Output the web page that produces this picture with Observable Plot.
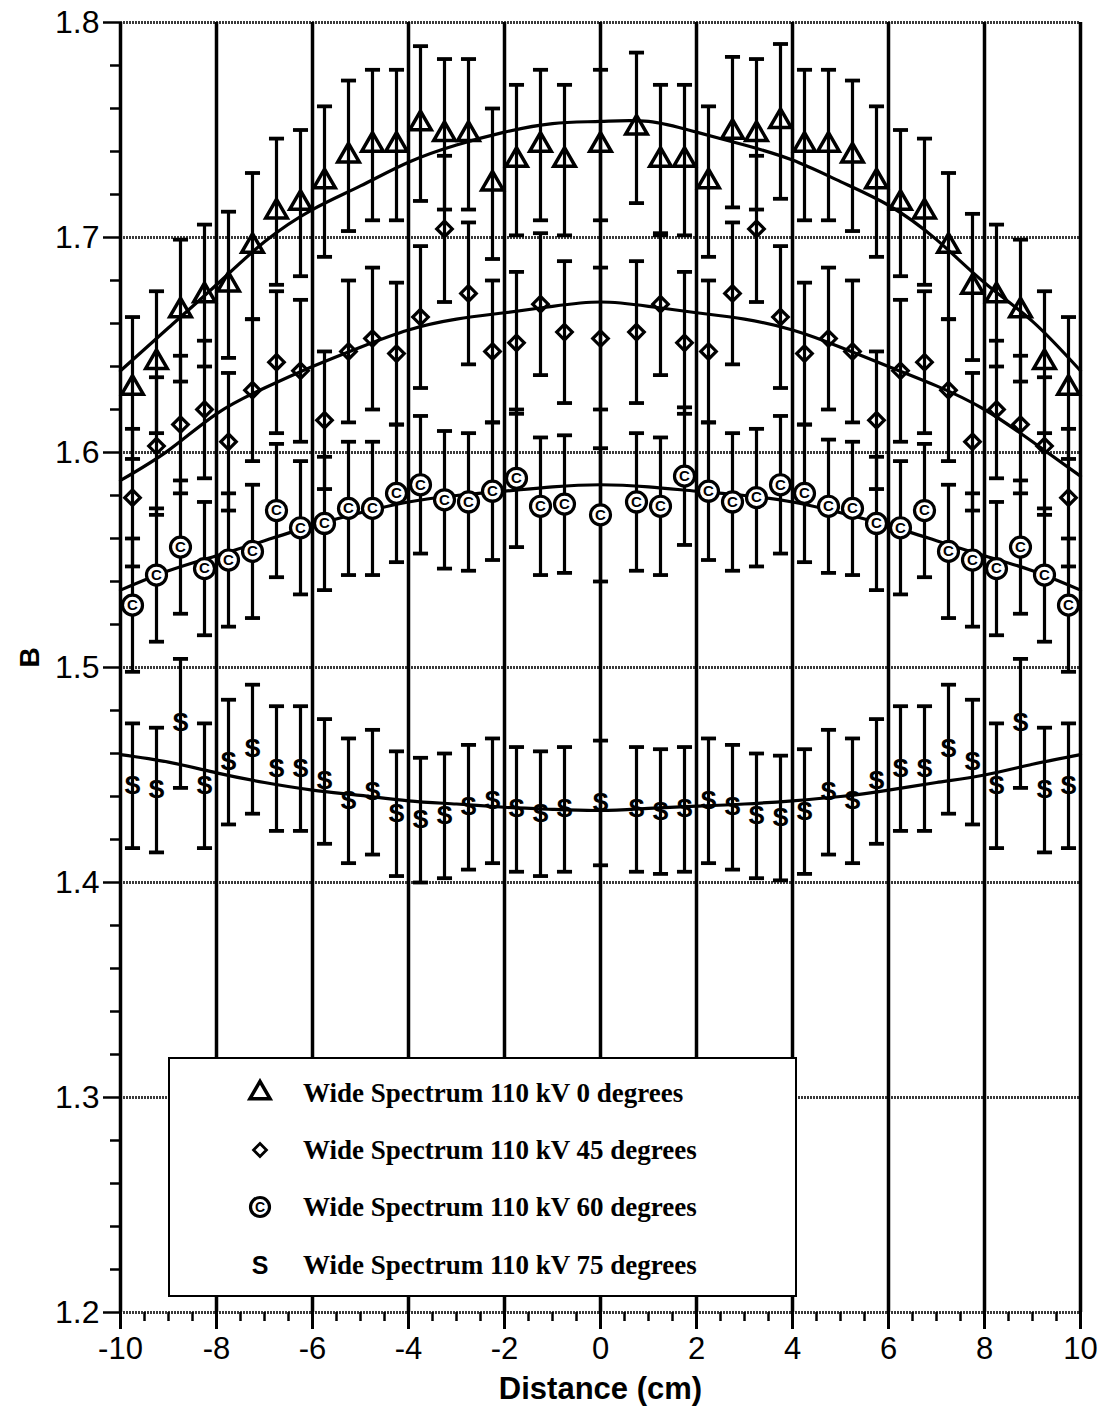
<!DOCTYPE html>
<html>
<head>
<meta charset="utf-8">
<script src="https://cdn.jsdelivr.net/npm/d3@7"></script>
<script src="https://cdn.jsdelivr.net/npm/@observablehq/plot@0.6"></script>
<style>
  body { margin: 0; background: #fff; }
  #wrap { position: relative; width: 1106px; height: 1410px; }
  #legend { position: absolute; left: 168px; top: 1057px; width: 625px; height: 236px;
            border: 2px solid #000; background: #fff; }
  .row { position: absolute; left: 0; width: 100%; height: 30px; }
  .row svg { position: absolute; left: 75px; top: 0; }
  .row span { position: absolute; left: 133px; top: 0; line-height: 30px; white-space: nowrap;
              font: bold 27px "Liberation Serif", "Times New Roman", serif; color: #000; }
</style>
</head>
<body>
<div id="wrap"><div id="legend"></div></div>
<script>
// ---- data ----
const xPositions = [-9.75, -9.25, -8.75, -8.25, -7.75, -7.25, -6.75, -6.25, -5.75, -5.25, -4.75, -4.25, -3.75, -3.25, -2.75, -2.25, -1.75, -1.25, -0.75, 0, 0.75, 1.25, 1.75, 2.25, 2.75, 3.25, 3.75, 4.25, 4.75, 5.25, 5.75, 6.25, 6.75, 7.25, 7.75, 8.25, 8.75, 9.25, 9.75];

const deg0 = [1.630, 1.642, 1.666, 1.673, 1.678, 1.696, 1.712, 1.716, 1.726, 1.738, 1.743, 1.743, 1.753, 1.748, 1.748, 1.725, 1.736, 1.743, 1.736, 1.743, 1.751, 1.736, 1.736, 1.726, 1.749, 1.748, 1.754, 1.743, 1.743, 1.738, 1.726, 1.716, 1.712, 1.696, 1.677, 1.673, 1.666, 1.642, 1.630];
const deg0Err = [0.033, 0.033, 0.033, 0.033, 0.034, 0.034, 0.034, 0.034, 0.035, 0.035, 0.035, 0.035, 0.036, 0.035, 0.035, 0.035, 0.035, 0.035, 0.035, 0.035, 0.035, 0.035, 0.035, 0.035, 0.035, 0.035, 0.036, 0.035, 0.035, 0.035, 0.035, 0.034, 0.034, 0.034, 0.034, 0.033, 0.033, 0.033, 0.033];

const deg45 = [1.579, 1.603, 1.613, 1.620, 1.605, 1.629, 1.642, 1.638, 1.615, 1.647, 1.653, 1.646, 1.663, 1.704, 1.674, 1.647, 1.651, 1.669, 1.656, 1.653, 1.656, 1.669, 1.651, 1.647, 1.674, 1.704, 1.663, 1.646, 1.653, 1.647, 1.615, 1.638, 1.642, 1.629, 1.605, 1.620, 1.613, 1.603, 1.579];
const deg45Err = [0.032, 0.032, 0.032, 0.032, 0.032, 0.033, 0.033, 0.033, 0.032, 0.033, 0.033, 0.033, 0.033, 0.034, 0.033, 0.033, 0.033, 0.033, 0.033, 0.033, 0.033, 0.033, 0.033, 0.033, 0.033, 0.034, 0.033, 0.033, 0.033, 0.033, 0.032, 0.033, 0.033, 0.033, 0.032, 0.032, 0.032, 0.032, 0.032];

const deg60 = [1.529, 1.543, 1.556, 1.546, 1.550, 1.554, 1.573, 1.565, 1.567, 1.574, 1.574, 1.581, 1.585, 1.578, 1.577, 1.582, 1.588, 1.575, 1.576, 1.571, 1.577, 1.575, 1.589, 1.582, 1.577, 1.579, 1.585, 1.581, 1.575, 1.574, 1.567, 1.565, 1.573, 1.554, 1.550, 1.546, 1.556, 1.543, 1.529];
const deg60Err = [0.031, 0.031, 0.031, 0.031, 0.031, 0.031, 0.031, 0.031, 0.031, 0.031, 0.031, 0.032, 0.032, 0.032, 0.032, 0.032, 0.032, 0.032, 0.032, 0.031, 0.032, 0.032, 0.032, 0.032, 0.032, 0.032, 0.032, 0.032, 0.031, 0.031, 0.031, 0.031, 0.031, 0.031, 0.031, 0.031, 0.031, 0.031, 0.031];

const deg75 = [1.445, 1.443, 1.474, 1.445, 1.456, 1.462, 1.453, 1.453, 1.447, 1.438, 1.442, 1.432, 1.429, 1.431, 1.435, 1.438, 1.434, 1.432, 1.434, 1.437, 1.434, 1.433, 1.434, 1.438, 1.435, 1.431, 1.430, 1.433, 1.442, 1.438, 1.447, 1.453, 1.453, 1.462, 1.456, 1.445, 1.474, 1.443, 1.445];
const deg75Err = [0.029, 0.029, 0.030, 0.029, 0.029, 0.030, 0.029, 0.029, 0.029, 0.029, 0.029, 0.029, 0.029, 0.029, 0.029, 0.029, 0.029, 0.029, 0.029, 0.029, 0.029, 0.029, 0.029, 0.029, 0.029, 0.029, 0.029, 0.029, 0.029, 0.029, 0.029, 0.029, 0.029, 0.030, 0.029, 0.029, 0.030, 0.029, 0.029];

// fitted curves, read every 1 cm
const curveX = [-10, -9, -8, -7, -6, -5, -4, -3, -2, -1, 0, 1, 2, 3, 4, 5, 6, 7, 8, 9, 10];
const fit0  = [1.638, 1.658, 1.678, 1.698, 1.713, 1.724, 1.735, 1.743, 1.749, 1.753, 1.754, 1.754, 1.749, 1.743, 1.736, 1.726, 1.715, 1.699, 1.679, 1.661, 1.638];
const fit45 = [1.587, 1.601, 1.618, 1.630, 1.640, 1.649, 1.657, 1.662, 1.665, 1.668, 1.670, 1.668, 1.665, 1.662, 1.657, 1.649, 1.640, 1.631, 1.620, 1.605, 1.589];
const fit60 = [1.536, 1.545, 1.552, 1.559, 1.566, 1.572, 1.577, 1.580, 1.582, 1.584, 1.585, 1.584, 1.582, 1.580, 1.577, 1.572, 1.566, 1.559, 1.552, 1.545, 1.536];
const fit75 = [1.4595, 1.456, 1.451, 1.4465, 1.443, 1.4405, 1.438, 1.4365, 1.435, 1.434, 1.4335, 1.4345, 1.4355, 1.4365, 1.438, 1.440, 1.443, 1.4465, 1.450, 1.455, 1.4595];

const xTicks = [-10, -8, -6, -4, -2, 0, 2, 4, 6, 8, 10];
const xMinorTicks = [-9.5, -9, -8.5, -7.5, -7, -6.5, -5.5, -5, -4.5, -3.5, -3, -2.5, -1.5, -1, -0.5, 0.5, 1, 1.5, 2.5, 3, 3.5, 4.5, 5, 5.5, 6.5, 7, 7.5, 8.5, 9, 9.5];
const yTicks = [1.2, 1.3, 1.4, 1.5, 1.6, 1.7, 1.8];
const yMinorTicks = [1.22, 1.24, 1.26, 1.28, 1.32, 1.34, 1.36, 1.38, 1.42, 1.44, 1.46, 1.48, 1.52, 1.54, 1.56, 1.58, 1.62, 1.64, 1.66, 1.68, 1.72, 1.74, 1.76, 1.78];

const legendLabels = ["Wide Spectrum 110 kV 0 degrees", "Wide Spectrum 110 kV 45 degrees", "Wide Spectrum 110 kV 60 degrees", "Wide Spectrum 110 kV 75 degrees"];
const xLabel = "Distance (cm)";
const yLabel = "B";

// ---- build tables ----
const table = (vals, errs) => xPositions.map((x, i) => ({x, v: vals[i], e: errs[i]}));
const t0 = table(deg0, deg0Err), t45 = table(deg45, deg45Err), t60 = table(deg60, deg60Err), t75 = table(deg75, deg75Err);
const all = [...t0, ...t45, ...t60, ...t75];
const fitTable = (vals) => curveX.map((x, i) => ({x, v: vals[i]}));

const cap = { draw(ctx, size) { const w = Math.sqrt(size) / 2; ctx.moveTo(-w, 0); ctx.lineTo(w, 0); } };
const sansFont = '"Liberation Sans", Arial, Helvetica, sans-serif';

const chart = Plot.plot({
  width: 1106, height: 1410,
  marginLeft: 120, marginRight: 26, marginTop: 22, marginBottom: 98,
  x: {domain: [-10, 10]},
  y: {domain: [1.2, 1.8]},
  style: {fontFamily: sansFont, background: "white", overflow: "visible", color: "black"},
  marks: [
    Plot.gridY({ticks: yTicks, stroke: "#3a3a3a", strokeOpacity: 1, strokeWidth: 3, strokeDasharray: "2,1"}),
    Plot.gridX({ticks: xTicks, stroke: "#000", strokeOpacity: 1, strokeWidth: 3.5}),
    Plot.axisY({ticks: yMinorTicks, tickSize: 10, tickFormat: () => "", strokeWidth: 2.5, label: null}),
    Plot.axisY({ticks: yTicks, tickSize: 17, tickFormat: d => d.toFixed(1), fontSize: 32, tickPadding: 4, strokeWidth: 2.5, label: null}),
    Plot.axisX({ticks: xMinorTicks, tickSize: 9, tickFormat: () => "", strokeWidth: 2.5, label: null}),
    Plot.axisX({ticks: xTicks, tickSize: 17, tickFormat: d => String(d), fontSize: 31, tickPadding: 7, strokeWidth: 3, label: null}),
    Plot.text([yLabel], {text: d => d, frameAnchor: "left", dx: -90, rotate: -90, fontSize: 28, fontWeight: "bold"}),
    Plot.text([xLabel], {text: d => d, frameAnchor: "bottom", dy: 86, fontSize: 31, fontWeight: "bold"}),
    // error bars
    Plot.ruleX(all, {x: "x", y1: d => d.v - d.e, y2: d => d.v + d.e, stroke: "black", strokeWidth: 3.2}),
    Plot.dot(all, {x: "x", y: d => d.v + d.e, symbol: cap, r: 8.5, fill: "none", stroke: "black", strokeWidth: 3.8}),
    Plot.dot(all, {x: "x", y: d => d.v - d.e, symbol: cap, r: 8.5, fill: "none", stroke: "black", strokeWidth: 3.8}),
    // fitted curves
    Plot.line(fitTable(fit0), {x: "x", y: "v", curve: "natural", stroke: "black", strokeWidth: 3.2}),
    Plot.line(fitTable(fit45), {x: "x", y: "v", curve: "natural", stroke: "black", strokeWidth: 3.2}),
    Plot.line(fitTable(fit60), {x: "x", y: "v", curve: "natural", stroke: "black", strokeWidth: 3.2}),
    Plot.line(fitTable(fit75), {x: "x", y: "v", curve: "natural", stroke: "black", strokeWidth: 3.2}),
    // markers
    Plot.dot(t0, {x: "x", y: "v", symbol: "triangle", r: 8, fill: "none", stroke: "black", strokeWidth: 3.5}),
    Plot.dot(t45, {x: "x", y: "v", symbol: "diamond2", r: 7, fill: "none", stroke: "black", strokeWidth: 3.2}),
    Plot.dot(t60, {x: "x", y: "v", symbol: "circle", r: 10, fill: "white", stroke: "black", strokeWidth: 3.2}),
    Plot.text(t60, {x: "x", y: "v", text: () => "C", fontSize: 15, fontWeight: "bold", fill: "black"}),
    Plot.text(t75, {x: "x", y: "v", text: () => "S", fontSize: 25, fontWeight: "bold", fill: "black"})
  ]
});
document.getElementById("wrap").insertBefore(chart, document.getElementById("legend"));

// ---- legend (overlay inside the plot area) ----
const legend = d3.select("#legend");
const rowTops = [19, 76, 133, 191];
const kinds = ["triangle", "diamond", "copy", "s"];
legendLabels.forEach((label, i) => {
  const row = legend.append("div").attr("class", "row").style("top", rowTops[i] + "px");
  const svg = row.append("svg").attr("width", 30).attr("height", 30);
  const g = svg.append("g").attr("transform", "translate(15,15)");
  if (kinds[i] === "triangle") {
    g.append("path").attr("d", d3.symbol(d3.symbolTriangle, Math.PI * 7.5 * 7.5)()).attr("fill", "none").attr("stroke", "black").attr("stroke-width", 3.5);
  } else if (kinds[i] === "diamond") {
    g.append("path").attr("d", d3.symbol(d3.symbolDiamond2, Math.PI * 5.8 * 5.8)()).attr("fill", "none").attr("stroke", "black").attr("stroke-width", 2.8);
  } else if (kinds[i] === "copy") {
    g.append("circle").attr("r", 9.5).attr("fill", "white").attr("stroke", "black").attr("stroke-width", 3.2);
    g.append("text").text("C").attr("text-anchor", "middle").attr("dy", "0.36em").attr("font-size", 14).attr("font-weight", "bold").attr("font-family", sansFont);
  } else {
    g.append("text").text("S").attr("text-anchor", "middle").attr("dy", "0.36em").attr("font-size", 25).attr("font-weight", "bold").attr("font-family", sansFont);
  }
  row.append("span").text(label);
});
</script>
</body>
</html>
